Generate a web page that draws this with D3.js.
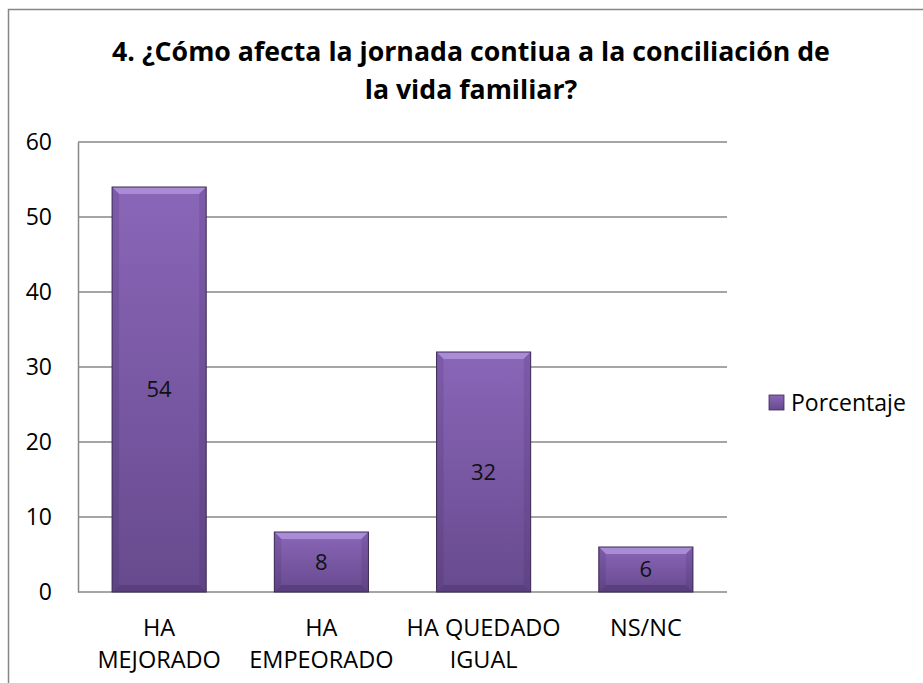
<!DOCTYPE html>
<html>
<head>
<meta charset="utf-8">
<script src="https://cdn.jsdelivr.net/npm/d3@7"></script>
<style>
  body { margin: 0; background: #fff; }
  text { font-family: 'Open Sans', sans-serif; fill: #000; }
</style>
</head>
<body>
<div id="chart"></div>
<script>
const categories = [['HA', 'MEJORADO'], ['HA', 'EMPEORADO'], ['HA QUEDADO', 'IGUAL'], ['NS/NC']]
const values = [54, 8, 32, 6]
const yTicks = [0, 10, 20, 30, 40, 50, 60]
const titleLines = ['4. ¿Cómo afecta la jornada contiua a la conciliación de', 'la vida familiar?']
const seriesName = 'Porcentaje'

const W = 923
const H = 683
const plot = { left: 78, right: 727, top: 142, bottom: 592 }

var svg = d3
  .select('#chart')
  .append('svg')
  .attr('width', W)
  .attr('height', H)

// gradients for the bevelled bars
var defs = svg.append('defs')
var body = defs.append('linearGradient').attr('id', 'barBody')
  .attr('x1', 0).attr('y1', 0).attr('x2', 0).attr('y2', 1)
body.append('stop').attr('offset', '0%').attr('stop-color', '#8a66b8')
body.append('stop').attr('offset', '100%').attr('stop-color', '#674a8e')
var side = defs.append('linearGradient').attr('id', 'barSide')
  .attr('x1', 0).attr('y1', 0).attr('x2', 0).attr('y2', 1)
side.append('stop').attr('offset', '0%').attr('stop-color', '#7a58a6')
side.append('stop').attr('offset', '100%').attr('stop-color', '#5d4282')

// outer chart border (right and bottom edges run off the page)
svg.append('rect')
  .attr('x', 8.5).attr('y', 9.5)
  .attr('width', W + 20).attr('height', H + 20)
  .attr('fill', 'none')
  .attr('stroke', '#868686')
  .attr('stroke-width', 1.5)

// title
svg.append('g')
  .selectAll('text')
  .data(titleLines)
  .enter()
  .append('text')
  .attr('x', 471)
  .attr('y', (d, i) => 61 + i * 38)
  .attr('text-anchor', 'middle')
  .style('font-weight', 'bold')
  .style('font-size', '26.7px')
  .text(d => d)

// scales
var xScale = d3.scaleBand()
  .domain(d3.range(categories.length))
  .range([plot.left, plot.right])
  .paddingInner(0.42)
  .paddingOuter(0.21)

var yScale = d3.scaleLinear()
  .domain([0, 60])
  .range([plot.bottom, plot.top])

// gridlines
svg.append('g')
  .selectAll('line')
  .data(yTicks)
  .enter()
  .append('line')
  .attr('x1', plot.left)
  .attr('x2', plot.right)
  .attr('y1', d => yScale(d))
  .attr('y2', d => yScale(d))
  .attr('stroke', '#878787')
  .attr('stroke-width', 1.5)

// y axis
const yAxis = d3.axisLeft(yScale).tickValues(yTicks).tickSize(0).tickPadding(26)
svg.append('g')
  .attr('class', 'axis y-axis')
  .attr('transform', 'translate(' + plot.left + ',0)')
  .call(yAxis)
  .call(g => g.select('.domain').attr('stroke', '#878787').attr('stroke-width', 1.5))
  .call(g => g.selectAll('text').style('font-size', '23px').attr('font-family', null))

// bars
var bars = svg.append('g')
  .selectAll('g')
  .data(values)
  .enter()
  .append('g')

const bev = 7
bars.append('rect')
  .attr('x', (d, i) => xScale(i))
  .attr('y', d => yScale(d))
  .attr('width', xScale.bandwidth())
  .attr('height', d => yScale(0) - yScale(d))
  .attr('fill', 'url(#barBody)')

// top bevel
bars.append('path')
  .attr('d', function(d, i) {
    var x0 = xScale(i), x1 = x0 + xScale.bandwidth(), y0 = yScale(d)
    return 'M' + x0 + ',' + y0 + 'L' + x1 + ',' + y0 + 'L' + (x1 - bev) + ',' + (y0 + bev) +
      'L' + (x0 + bev) + ',' + (y0 + bev) + 'Z'
  })
  .attr('fill', '#a98bd6')

// left and right bevels
bars.append('path')
  .attr('d', function(d, i) {
    var x0 = xScale(i), y0 = yScale(d), y1 = yScale(0)
    return 'M' + x0 + ',' + y0 + 'L' + (x0 + bev) + ',' + (y0 + bev) + 'L' + (x0 + bev) + ',' + (y1 - bev) +
      'L' + x0 + ',' + y1 + 'Z'
  })
  .attr('fill', 'url(#barSide)')
  .attr('opacity', 0.8)

bars.append('path')
  .attr('d', function(d, i) {
    var x1 = xScale(i) + xScale.bandwidth(), y0 = yScale(d), y1 = yScale(0)
    return 'M' + x1 + ',' + y0 + 'L' + (x1 - bev) + ',' + (y0 + bev) + 'L' + (x1 - bev) + ',' + (y1 - bev) +
      'L' + x1 + ',' + y1 + 'Z'
  })
  .attr('fill', 'url(#barSide)')
  .attr('opacity', 0.8)

// bottom bevel
bars.append('path')
  .attr('d', function(d, i) {
    var x0 = xScale(i), x1 = x0 + xScale.bandwidth(), y1 = yScale(0)
    return 'M' + x0 + ',' + y1 + 'L' + x1 + ',' + y1 + 'L' + (x1 - bev) + ',' + (y1 - bev) +
      'L' + (x0 + bev) + ',' + (y1 - bev) + 'Z'
  })
  .attr('fill', '#5a3f7e')

bars.append('rect')
  .attr('x', (d, i) => xScale(i))
  .attr('y', d => yScale(d))
  .attr('width', xScale.bandwidth())
  .attr('height', d => yScale(0) - yScale(d))
  .attr('fill', 'none')
  .attr('stroke', '#3b2a52')
  .attr('stroke-width', 1)

// value labels
bars.append('text')
  .attr('x', (d, i) => xScale(i) + xScale.bandwidth() / 2)
  .attr('y', d => (yScale(d) + yScale(0)) / 2)
  .attr('dy', '0.35em')
  .attr('text-anchor', 'middle')
  .style('font-size', '22px')
  .style('fill', '#111')
  .text(d => d)

// category labels
var cats = svg.append('g')
  .selectAll('text')
  .data(categories)
  .enter()
  .append('text')
  .attr('text-anchor', 'middle')
  .style('font-size', '23.5px')

cats.selectAll('tspan')
  .data((d, i) => d.map(t => ({ t: t, i: i })))
  .enter()
  .append('tspan')
  .attr('x', d => xScale(d.i) + xScale.bandwidth() / 2)
  .attr('y', (d, j) => 636 + j * 32)
  .text(d => d.t)

// legend
var legend = svg.append('g').attr('transform', 'translate(769,395)')
legend.append('rect')
  .attr('width', 15).attr('height', 15)
  .attr('fill', 'url(#barBody)')
  .attr('stroke', '#3b2a52')
  .attr('stroke-width', 0.8)
legend.append('text')
  .attr('x', 22)
  .attr('y', 8)
  .attr('dy', '0.35em')
  .style('font-size', '23px')
  .text(seriesName)
</script>
</body>
</html>
